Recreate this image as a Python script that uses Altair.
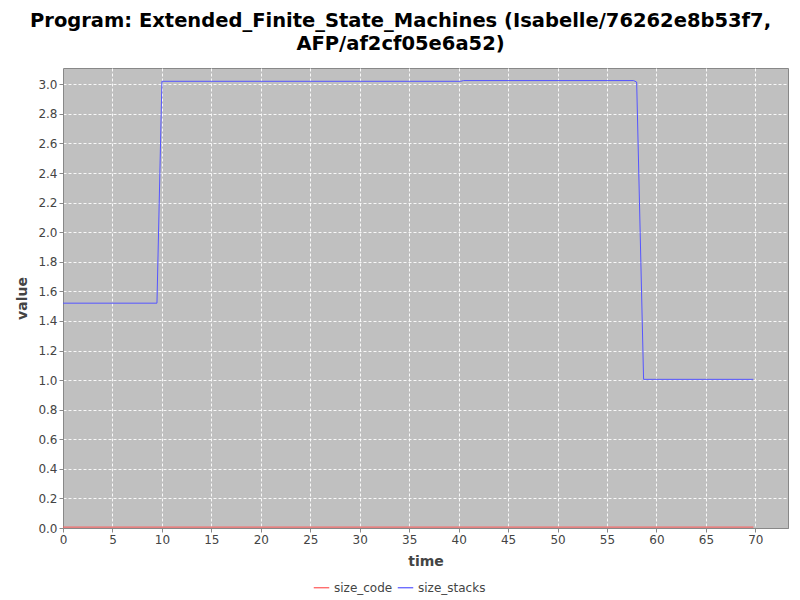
import altair as alt
import pandas as pd

# series data
stacks_time = [0.0, 9.5, 10.0, 40.2, 40.5, 57.7, 58.0, 58.7, 69.8]
stacks_value = [1.52, 1.52, 3.02, 3.02, 3.025, 3.025, 3.015, 1.005, 1.005]
code_time = [0.0, 69.8]
code_value = [0.006, 0.006]

series_names = ["size_code", "size_stacks"]
series_colors = ["#FF5555", "#5555FF"]

rows = []
for t, v in zip(code_time, code_value):
    rows.append({"time": t, "value": v, "series": "size_code"})
for t, v in zip(stacks_time, stacks_value):
    rows.append({"time": t, "value": v, "series": "size_stacks"})
df = pd.DataFrame(rows)

x_ticks = list(range(0, 75, 5))
y_ticks = [round(i * 0.2, 1) for i in range(16)]

chart = alt.Chart(df).mark_line(strokeWidth=1, clip=False).encode(
    x=alt.X("time:Q",
            scale=alt.Scale(domain=[0, 73.3], nice=False, zero=False),
            axis=alt.Axis(values=x_ticks, title="time", format="d", labelFlush=False)),
    y=alt.Y("value:Q",
            scale=alt.Scale(domain=[0, 3.11], nice=False),
            axis=alt.Axis(values=y_ticks, title="value", format=".1f", labelFlush=False)),
    color=alt.Color("series:N",
                    scale=alt.Scale(domain=series_names, range=series_colors),
                    legend=alt.Legend(title=None, orient="none", direction="horizontal",
                                      legendX=250, legendY=511,
                                      symbolType="stroke", symbolSize=240,
                                      symbolStrokeWidth=1.2,
                                      labelFont="DejaVu Sans", labelFontSize=12,
                                      labelColor="#444", columnPadding=2)),
    detail="series:N",
).properties(
    width=725,
    height=460,
    autosize=alt.AutoSizeParams(type="none"),
    padding={"left": 55, "top": 60, "right": 4, "bottom": 72},
    title=alt.TitleParams(
        text=["Program: Extended_Finite_State_Machines (Isabelle/76262e8b53f7,",
              "AFP/af2cf05e6a52)"],
        font="DejaVu Sans", fontSize=19.5, fontWeight="bold", color="#000",
        anchor="middle", dx=-25, offset=14, lineHeight=23),
).configure_view(
    fill="#C0C0C0", stroke="#888888", strokeWidth=1
).configure_axis(
    gridColor="#FFFFFF", gridDash=[3, 2], gridOpacity=0.9, gridWidth=1,
    labelFont="DejaVu Sans", labelFontSize=12, labelColor="#444444",
    titleFont="DejaVu Sans", titleFontSize=14, titleFontWeight="bold", titleColor="#444444",
    domainColor="#888888", tickColor="#888888", tickSize=4,
).configure_axisX(
    titlePadding=9
).configure_axisY(
    titlePadding=8
)

chart.save("out.html", embed_options={"renderer": "svg", "actions": False})
